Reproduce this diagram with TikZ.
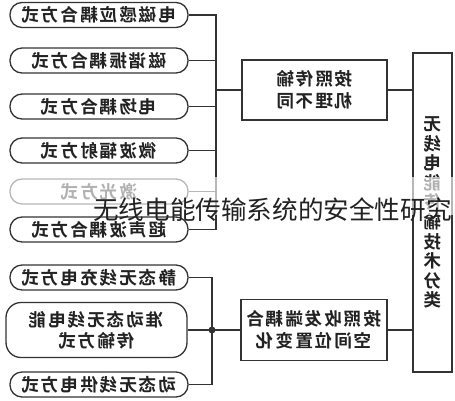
\documentclass[tikz,border=0pt]{standalone}
\usepackage{fontspec}
\newfontfamily\bx{Noto Sans CJK SC}[LetterSpace=11,BoldFont={Noto Sans CJK SC Bold}]
\newfontfamily\wm{Noto Sans CJK SC}
\definecolor{ln}{HTML}{333333}
\definecolor{tx}{HTML}{222222}
\newcommand{\rf}[1]{\reflectbox{#1}}
\tikzset{
  conn/.style={draw=ln, line width=1.3pt},
  pill/.style={draw=ln, line width=1.3pt, rounded corners=12pt, minimum width=178pt,
    minimum height=25pt, inner sep=0pt, text=tx,
    font=\bx\bfseries\fontsize{17.6}{21}\selectfont},
  midbox/.style={draw=ln, line width=1.3pt, minimum width=145pt, minimum height=60pt,
    inner sep=0pt, align=center, text=tx,
    font=\bx\bfseries\fontsize{17.6}{22}\selectfont},
  tallbox/.style={draw=ln, line width=1.3pt, minimum width=39pt, minimum height=319pt,
    inner sep=0pt, align=center, text=tx,
    font=\bx\bfseries\fontsize{17.6}{19.6}\selectfont},
}
\begin{document}
\begin{tikzpicture}[x=1pt,y=-1pt]
\useasboundingbox[fill=white] (0,0) rectangle (455,400);
% left boxes
\node[pill] (b1) at (99,15) {\rf{电磁感应耦合方式}};
\node[pill] (b2) at (99,60.5) {\rf{磁谐振耦合方式}};
\node[pill] (b3) at (99,106.5) {\rf{电场耦合方式}};
\node[pill] (b4) at (99,150.5) {\rf{微波辐射方式}};
\node[pill] (b5) at (99,191.5) {\rf{激光方式}};
\node[pill] (b6) at (99,229.5) {\rf{超声波耦合方式}};
\node[pill] (b7) at (99,277.5) {\rf{静态无线充电方式}};
\node[pill, minimum width=181pt, minimum height=55pt, rounded corners=15pt, align=center] (b8) at (96.5,330) {\rf{准动态无线电能}\\\rf{传输方式}};
\node[pill] (b9) at (99,384.5) {\rf{动态无线供电方式}};
% middle boxes
\node[midbox] (m1) at (314.5,90) {\rf{按照传输}\\\rf{机理不同}};
\node[midbox, minimum width=146pt, minimum height=61pt] (m2) at (314,330) {\rf{按照收发端耦合}\\\rf{空间位置变化}};
% right box
\node[tallbox] (r) at (432.5,212.5) {\rf{无}\\\rf{线}\\\rf{电}\\\rf{能}\\\rf{传}\\\rf{输}\\\rf{技}\\\rf{术}\\\rf{分}\\\rf{类}};
% junctions
\coordinate (j1) at (216,90);
\coordinate (j2) at (212,330);
\foreach \b in {b1,b2,b3,b4,b5,b6} \draw[conn] (\b.east) -| (j1);
\foreach \b in {b7,b8,b9} \draw[conn] (\b.east) -| (j2);
\draw[conn] (j1) -- (m1.west);
\draw[conn] (j2) -- (m2.west);
\fill[ln] (j2) circle (3.5pt);
\draw[conn] (m1.east) -- (r.west |- m1.east);
\draw[conn] (m2.east) -- (r.west |- m2.east);
% watermark band and title
\fill[white, opacity=0.65] (0,177) rectangle (455,215);
\node[anchor=west, inner sep=0pt, text=tx, font=\wm\fontsize{25.6}{30}\selectfont] (wt) at (93,210) {无线电能传输系统的安全性研究};
\end{tikzpicture}
\end{document}
